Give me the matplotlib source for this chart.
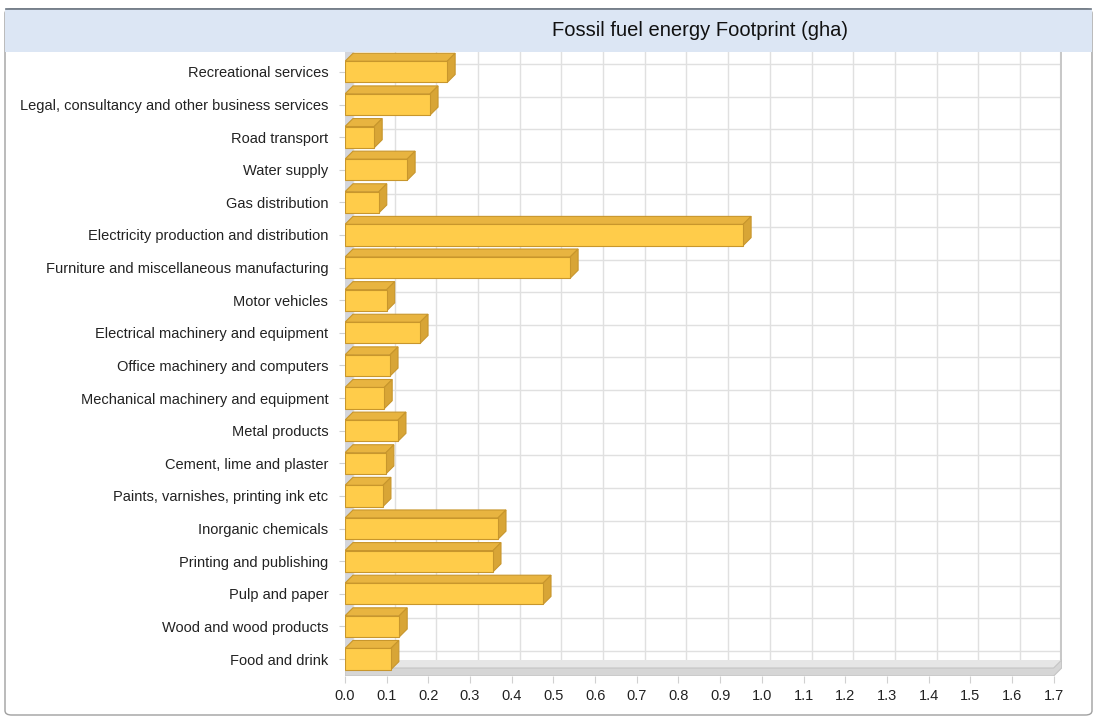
import matplotlib
matplotlib.use('Agg')
import matplotlib.pyplot as plt
from matplotlib.patches import Polygon, Rectangle, FancyBboxPatch
import numpy as np

# data (bottom to top)
categories = ['Food and drink', 'Wood and wood products', 'Pulp and paper',
              'Printing and publishing', 'Inorganic chemicals',
              'Paints, varnishes, printing ink etc', 'Cement, lime and plaster',
              'Metal products', 'Mechanical machinery and equipment',
              'Office machinery and computers', 'Electrical machinery and equipment',
              'Motor vehicles', 'Furniture and miscellaneous manufacturing',
              'Electricity production and distribution', 'Gas distribution',
              'Water supply', 'Road transport',
              'Legal, consultancy and other business services', 'Recreational services']
values = [0.11, 0.13, 0.475, 0.355, 0.367, 0.091, 0.098, 0.127, 0.094, 0.108,
          0.18, 0.10, 0.54, 0.955, 0.081, 0.149, 0.07, 0.204, 0.245]
xticks = [0.0, 0.1, 0.2, 0.3, 0.4, 0.5, 0.6, 0.7, 0.8, 0.9,
          1.0, 1.1, 1.2, 1.3, 1.4, 1.5, 1.6, 1.7]
title = 'Fossil fuel energy Footprint (gha)'

plt.rcParams['font.family'] = ['Liberation Sans', 'DejaVu Sans']

fig = plt.figure(figsize=(10.97, 7.18), dpi=100)
W, H = 1097, 718

# outer frame and header band
fig.patches.append(FancyBboxPatch((5 / W, 3 / H), 1087 / W, 706 / H,
                                  boxstyle='round,pad=0,rounding_size=0.006',
                                  transform=fig.transFigure, facecolor='white',
                                  edgecolor='#a0a0a0', lw=1.0, zorder=0))
# faint blue gradient on the right side
grad = np.linspace(0, 1, 200).reshape(-1, 1) * np.ones((1, 10))
gax = fig.add_axes([1062 / W, 200 / H, 29 / W, 466 / H])
gax.imshow(grad, aspect='auto', cmap=matplotlib.colors.LinearSegmentedColormap.from_list(
    'g', ['#ffffff', '#eef2fb']), origin='lower')
gax.axis('off')
fig.patches.append(Rectangle((5 / W, 666 / H), 1087 / W, 43 / H,
                             transform=fig.transFigure, facecolor='#dce6f4',
                             edgecolor='none', zorder=1))
fig.lines.append(plt.Line2D([6 / W, 1091 / W], [709 / H, 709 / H],
                            transform=fig.transFigure, color='#6a7480', lw=1.2))
fig.text(700 / W, 687 / H, title, ha='center', va='center', fontsize=14.5,
         color='#111111')

# axes: data 0 at px 345, back wall to px 1062, floor bottom at px 676
ax = fig.add_axes([345 / W, 42 / H, 717 / W, 624 / H])
ax.set_zorder(3)
n = len(categories)
y = np.arange(n)
xmax = 1.72
ymin, ymax = -0.52, n - 1 + 0.61
ax.set_xlim(0, xmax)
ax.set_ylim(ymin, ymax)

# depth of the 3d effect in data units (8 px)
dx = 8 / (717 / xmax)
dy = 8 / (624 / (ymax - ymin))
slab = dy
h = 0.65
fl = ymin + slab  # floor front top edge

# back wall grid
for t in xticks:
    ax.plot([t + dx, t + dx], [fl + dy, ymax], color='#e0e0e0', lw=1, zorder=1)
for yy in y:
    ax.plot([dx, xmax], [yy + dy, yy + dy], color='#e0e0e0', lw=1, zorder=1)
ax.plot([xmax - 0.002, xmax - 0.002], [fl + dy, ymax], color='#c8c8c8', lw=1.5, zorder=1)

# floor slab and left wall
ax.add_patch(Polygon([(0, fl), (xticks[-1], fl), (xticks[-1] + dx, fl + dy),
                      (dx, fl + dy)], closed=True, facecolor='#e6e6e6',
                     edgecolor='none', zorder=2))
ax.add_patch(Polygon([(0, ymin), (xticks[-1], ymin), (xticks[-1] + dx, ymin + dy),
                      (xticks[-1] + dx, fl + dy), (xticks[-1], fl), (0, fl)], closed=True,
                     facecolor='#d6d6d6', edgecolor='#c4c4c4', lw=0.8, zorder=2))
ax.add_patch(Polygon([(0, fl), (dx, fl + dy), (dx, ymax), (0, ymax)], closed=True,
                     facecolor='#d4d6dc', edgecolor='none', zorder=2))

# 3d bars
front_c, top_c, side_c, edge_c = '#ffcc4a', '#e8b440', '#d8a536', '#c8962c'
for yy, v in zip(y, values):
    b, t = yy - h / 2, yy + h / 2
    ax.add_patch(Polygon([(0, t), (v, t), (v + dx, t + dy), (dx, t + dy)], closed=True,
                         facecolor=top_c, edgecolor=edge_c, lw=0.8, zorder=3))
    ax.add_patch(Polygon([(v, b), (v + dx, b + dy), (v + dx, t + dy), (v, t)], closed=True,
                         facecolor=side_c, edgecolor=edge_c, lw=0.8, zorder=3))
ax.barh(y, values, height=h, color=front_c, edgecolor=edge_c, lw=0.8, zorder=4)

ax.set_yticks(y)
ax.set_yticklabels(categories, fontsize=10.5, color='#222222')
ax.set_xticks(xticks)
ax.set_xticklabels(['%.1f' % t for t in xticks], fontsize=10.5, color='#222222')
ax.tick_params(axis='y', length=4, color='#d0d0d0', pad=8)
ax.tick_params(axis='x', length=5, color='#d0d0d0', pad=4)
for s in ax.spines.values():
    s.set_visible(False)
ax.set_facecolor('white')

fig.savefig('out.png', dpi=100)
